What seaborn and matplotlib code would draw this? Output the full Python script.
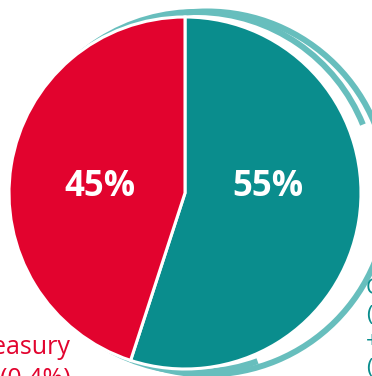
import matplotlib
matplotlib.use("Agg")
import matplotlib.pyplot as plt
from matplotlib.patches import Wedge
import seaborn as sns

# data
categories = ["Commercial", "Treasury"]
shares = [55, 45]
pct_labels = ["55%", "45%"]
outer_labels = ["Commercial\n(54.6%)\n+ Other\n(0.0%)", "Treasury\n(0.4%)"]

TEAL = "#0A8D8D"
RED = "#E2032E"
LIGHT = "#67BEBD"

sns.set_theme(style="white")
plt.rcParams["font.family"] = ["Open Sans", "DejaVu Sans"]

fig = plt.figure(figsize=(3.72, 3.76), dpi=100)
ax = fig.add_axes([0, 0, 1, 1])

cx, cy, R = 185, 183, 176

# decorative offset rings behind the pie
ax.add_patch(Wedge((207, 183), 184.5, 0, 360, width=6, facecolor=LIGHT,
                   edgecolor="none", zorder=0))
ax.add_patch(Wedge((196, 184), 183, 22, 290, width=6, facecolor=LIGHT,
                   edgecolor="none", zorder=0))

palette = sns.color_palette([TEAL, RED])
wedges, _ = ax.pie(shares, colors=palette, startangle=90, counterclock=False,
                   radius=R, center=(cx, cy), frame=True,
                   wedgeprops=dict(edgecolor="white", linewidth=2.2))
ax.set_xlim(0, 372)
ax.set_ylim(0, 376)
ax.set_aspect("equal")
ax.axis("off")

# percentage labels
ax.text(268, 189, pct_labels[0], ha="center", va="center", color="white",
        fontsize=25, fontweight="bold")
ax.text(100, 189, pct_labels[1], ha="center", va="center", color="white",
        fontsize=25, fontweight="bold")

# outer labels (partially clipped by the canvas)
ax.text(366, 376 - 278, outer_labels[0], ha="left", va="top", color=TEAL,
        fontsize=16, linespacing=1.35, clip_on=False)
ax.text(71, 376 - 385, outer_labels[1], ha="right", va="baseline", color=RED,
        fontsize=18, linespacing=1.3, multialignment="right", clip_on=False)

fig.savefig("out.png", dpi=100)
